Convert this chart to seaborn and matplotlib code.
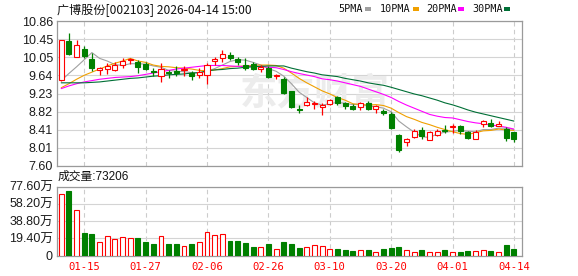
import numpy as np
import matplotlib
matplotlib.use("Agg")
import matplotlib.pyplot as plt
import seaborn as sns
from matplotlib.patches import Rectangle

# ---------------- data ----------------
dates = ["01-12", "01-13", "01-14", "01-15", "01-16", "01-19", "01-20", "01-21", "01-22", "01-23",
         "01-26", "01-27", "01-28", "01-29", "01-30", "02-02", "02-03", "02-04", "02-05", "02-06",
         "02-09", "02-10", "02-11", "02-12", "02-13", "02-24", "02-25", "02-26", "02-27", "03-02",
         "03-03", "03-04", "03-05", "03-06", "03-09", "03-10", "03-11", "03-12", "03-13", "03-16",
         "03-17", "03-18", "03-19", "03-20", "03-23", "03-24", "03-25", "03-26", "03-27", "03-30",
         "03-31", "04-01", "04-02", "04-03", "04-07", "04-08", "04-09", "04-10", "04-13", "04-14"]

opens = [9.525, 10.415, 10.048, 10.228, 10.004, 9.764, 9.787, 9.764, 9.862, 9.973,
         9.929, 9.891, 9.727, 9.630, 9.712, 9.727, 9.764, 9.689, 9.652, 9.637,
         9.966, 10.026, 10.101, 10.003, 9.876, 9.899, 9.779, 9.802, 9.615, 9.562,
         9.278, 8.882, 8.979, 8.994, 8.927, 9.001, 9.144, 9.017, 8.942, 8.919,
         9.017, 8.889, 8.829, 8.777, 8.306, 8.141, 8.246, 8.418, 8.193, 8.306,
         8.418, 8.478, 8.508, 8.366, 8.216, 8.545, 8.567, 8.508, 8.433, 8.359]
highs = [10.440, 10.587, 10.437, 10.288, 10.138, 9.817, 9.914, 9.929, 10.026, 10.026,
         9.989, 9.929, 9.802, 9.914, 9.764, 9.839, 9.854, 9.727, 9.802, 9.914,
         10.041, 10.213, 10.161, 10.041, 10.026, 9.929, 9.877, 9.839, 9.667, 9.600,
         9.293, 8.979, 9.144, 9.069, 9.017, 9.114, 9.166, 9.039, 8.994, 9.039,
         9.069, 8.979, 8.889, 8.807, 8.328, 8.231, 8.433, 8.471, 8.381, 8.433,
         8.530, 8.545, 8.530, 8.396, 8.418, 8.642, 8.657, 8.620, 8.478, 8.359]
lows = [9.520, 10.086, 10.040, 10.026, 9.727, 9.652, 9.667, 9.742, 9.802, 9.891,
        9.689, 9.749, 9.615, 9.488, 9.577, 9.615, 9.615, 9.525, 9.577, 9.450,
        9.862, 9.936, 9.989, 9.876, 9.764, 9.764, 9.712, 9.577, 9.562, 9.226,
        8.904, 8.785, 8.942, 8.882, 8.755, 8.979, 8.964, 8.889, 8.867, 8.867,
        8.852, 8.792, 8.740, 8.433, 7.909, 8.044, 8.231, 8.216, 8.178, 8.268,
        8.343, 8.343, 8.328, 8.216, 8.201, 8.478, 8.471, 8.493, 8.171, 8.149]
closes = [10.437, 10.116, 10.310, 10.063, 9.802, 9.802, 9.839, 9.877, 9.966, 10.003,
          9.817, 9.779, 9.704, 9.779, 9.682, 9.697, 9.772, 9.630, 9.712, 9.877,
          10.003, 10.116, 10.026, 9.936, 9.802, 9.779, 9.824, 9.600, 9.652, 9.241,
          8.919, 8.867, 9.039, 9.024, 8.979, 9.076, 9.017, 8.942, 8.882, 9.017,
          8.882, 8.942, 8.792, 8.455, 7.968, 8.216, 8.381, 8.268, 8.366, 8.381,
          8.381, 8.508, 8.381, 8.231, 8.366, 8.620, 8.493, 8.545, 8.231, 8.216]

# volume in 万 (10k shares)
volumes = [69.3, 73.1, 51.1, 25.4, 23.9, 14.8, 21.6, 18.2, 20.4, 19.3,
           19.7, 15.1, 12.5, 21.6, 12.5, 12.5, 10.2, 12.5, 14.8, 26.1,
           22.7, 23.9, 15.9, 15.9, 13.6, 9.1, 9.1, 12.5, 6.8, 14.8,
           12.5, 8.0, 9.1, 11.4, 10.2, 6.8, 6.8, 5.7, 4.5, 5.7,
           5.7, 4.2, 6.8, 8.0, 9.1, 6.4, 4.2, 5.7, 4.2, 4.2,
           5.7, 4.2, 3.4, 4.5, 4.5, 6.4, 4.5, 4.2, 11.4, 7.3206]

ma5 = [9.52, 9.68, 9.83, 9.99, 10.15, 10.02, 9.96, 9.88, 9.86, 9.90,
       9.90, 9.89, 9.85, 9.82, 9.75, 9.73, 9.72, 9.70, 9.69, 9.73,
       9.79, 9.87, 9.95, 9.99, 9.98, 9.93, 9.87, 9.79, 9.73, 9.62,
       9.45, 9.26, 9.14, 9.02, 8.97, 9.00, 9.03, 9.01, 8.98, 8.99,
       8.95, 8.93, 8.90, 8.82, 8.61, 8.48, 8.36, 8.26, 8.24, 8.32,
       8.36, 8.38, 8.40, 8.38, 8.37, 8.42, 8.42, 8.45, 8.45, 8.42]
ma10 = [9.36, 9.45, 9.55, 9.64, 9.71, 9.78, 9.85, 9.91, 9.96, 10.02,
        9.96, 9.93, 9.87, 9.84, 9.83, 9.81, 9.80, 9.78, 9.75, 9.74,
        9.76, 9.79, 9.83, 9.84, 9.85, 9.86, 9.87, 9.87, 9.86, 9.80,
        9.69, 9.57, 9.47, 9.38, 9.29, 9.22, 9.14, 9.08, 9.00, 8.98,
        8.97, 8.98, 8.96, 8.90, 8.80, 8.71, 8.65, 8.58, 8.53, 8.47,
        8.42, 8.37, 8.33, 8.31, 8.35, 8.39, 8.40, 8.43, 8.41, 8.40]
ma20 = [9.34, 9.40, 9.45, 9.49, 9.52, 9.55, 9.57, 9.59, 9.60, 9.61,
        9.63, 9.66, 9.69, 9.72, 9.75, 9.78, 9.80, 9.82, 9.84, 9.86,
        9.86, 9.86, 9.85, 9.84, 9.84, 9.84, 9.84, 9.82, 9.81, 9.77,
        9.72, 9.68, 9.645, 9.61, 9.56, 9.54, 9.51, 9.47, 9.43, 9.39,
        9.33, 9.27, 9.21, 9.14, 9.05, 8.97, 8.90, 8.83, 8.76, 8.72,
        8.69, 8.68, 8.64, 8.60, 8.57, 8.55, 8.52, 8.50, 8.47, 8.43]
ma30 = [9.47, 9.47, 9.47, 9.47, 9.48, 9.49, 9.51, 9.53, 9.55, 9.57,
        9.58, 9.60, 9.62, 9.63, 9.65, 9.66, 9.67, 9.69, 9.70, 9.74,
        9.76, 9.77, 9.79, 9.80, 9.82, 9.83, 9.84, 9.85, 9.85, 9.85,
        9.80, 9.76, 9.72, 9.69, 9.65, 9.63, 9.61, 9.57, 9.54, 9.51,
        9.47, 9.44, 9.415, 9.37, 9.32, 9.27, 9.22, 9.18, 9.13, 9.08,
        9.02, 8.975, 8.92, 8.86, 8.81, 8.77, 8.73, 8.69, 8.65, 8.61]

tick_dates = ["01-15", "01-27", "02-06", "02-26", "03-10", "03-20", "04-01", "04-14"]
price_ticks = [10.86, 10.4525, 10.045, 9.6375, 9.23, 8.8225, 8.415, 8.0075, 7.60]
price_labels = ["10.86", "10.45", "10.05", "9.64", "9.23", "8.82", "8.41", "8.01", "7.60"]
vol_ticks = [0, 19.4, 38.8, 58.2, 77.6]
vol_labels = ["0", "19.40万", "38.80万", "58.20万", "77.60万"]
title_text = "广博股份[002103] 2026-04-14 15:00"
vol_title = "成交量:73206"
ma_names = ["5PMA", "10PMA", "20PMA", "30PMA"]
watermark = "东方财富"

# ---------------- style ----------------
sns.set_theme(style="white")
plt.rcParams['font.family'] = ['Liberation Sans', 'Noto Sans CJK SC', 'DejaVu Sans']

RED = "#ff0000"
GREEN = "#008000"
MA_COLORS = ["#a0a0a0", "#f0a000", "#ff00ff", "#006f36"]
FRAME = "#9a9a9a"
HGRID = "#d4d4d4"
VGRID = "#cccccc"

W, H = 578, 276
fig = plt.figure(figsize=(W / 100, H / 100), dpi=100)
fig.patch.set_facecolor("white")

def fx(px):
    return px / W

def fy(py):
    return 1 - py / H

ax = fig.add_axes([fx(57), fy(166), fx(522) - fx(57), fy(21) - fy(166)])
axv = fig.add_axes([fx(57), fy(255.5), fx(522) - fx(57), fy(186.5) - fy(255.5)])

x = np.arange(len(dates))
o = np.array(opens); c = np.array(closes); h = np.array(highs); l = np.array(lows)
up = c >= o
col = np.where(up, RED, GREEN)
face = np.where(up, "white", GREEN)

tick_pos = [dates.index(d) for d in tick_dates]

for a in (ax, axv):
    a.set_facecolor("white")
    a.set_xlim(-0.55, 60.05)
    a.set_xticks(tick_pos)
    a.xaxis.grid(True, color=VGRID, lw=0.8, ls=(0, (4, 3)))
    a.yaxis.grid(True, color=HGRID, lw=0.8, ls='-')
    a.set_axisbelow(True)
    for s in a.spines.values():
        s.set_color(FRAME)
        s.set_linewidth(0.9)
    a.tick_params(axis='both', length=0)

# ---- price panel ----
ax.set_ylim(7.60, 10.86)
ax.set_yticks(price_ticks)
ax.set_yticklabels(price_labels, fontsize=9, color="#1c1c1c", family=['Liberation Sans'])
ax.tick_params(axis='y', pad=3)
ax.set_xticklabels([])

ax.text(0.555, 0.50, watermark, transform=ax.transAxes, fontsize=27, color="#ececec",
        family=['Noto Sans CJK SC'], fontweight='bold', ha='center', va='center', zorder=1)

for vals, colr in zip([ma5, ma10, ma20, ma30], MA_COLORS):
    sns.lineplot(x=x, y=vals, ax=ax, color=colr, linewidth=0.8, legend=False, zorder=2)

ax.vlines(x, l, h, colors=col, linewidth=0.9, zorder=3)
body = np.maximum(np.abs(c - o), 0.012)
ax.bar(x, body, bottom=np.minimum(o, c), width=0.66, color=face, edgecolor=col,
       linewidth=0.8, zorder=4)
ax.set_xlabel(""); ax.set_ylabel("")

# ---- volume panel ----
axv.set_ylim(0, 77.6)
axv.set_yticks(vol_ticks)
axv.set_yticklabels(vol_labels, fontsize=9, color="#1c1c1c")
axv.tick_params(axis='y', pad=3)
axv.bar(x, volumes, width=0.64, color=face, edgecolor=col, linewidth=0.8, zorder=3)
axv.set_xticklabels(tick_dates, fontsize=7.6, color=RED, family=['DejaVu Sans Mono'])
axv.tick_params(axis='x', pad=5)

# ---- texts ----
fig.text(fx(57), fy(10), title_text, ha='left', va='center', fontsize=8.7,
         color="#111111", family=['Noto Sans CJK SC', 'DejaVu Sans'])
fig.text(fx(58), fy(177), vol_title, ha='left', va='center', fontsize=8.5,
         color="#111111", family=['Liberation Sans', 'Noto Sans CJK SC'])

leg_x = [338, 380, 426, 472]
sq_x = [365, 413, 458, 504]
for name, tx, sx, colr in zip(ma_names, leg_x, sq_x, MA_COLORS):
    fig.text(fx(tx), fy(9), name, ha='left', va='center', fontsize=7.3,
             color="#111111", family=['DejaVu Sans Mono'])
    fig.patches.append(Rectangle((fx(sx), fy(10.5)), fx(6), 3.2 / H,
                                 transform=fig.transFigure, facecolor=colr,
                                 edgecolor='none', figure=fig))

fig.savefig("out.png", dpi=100, facecolor="white")
